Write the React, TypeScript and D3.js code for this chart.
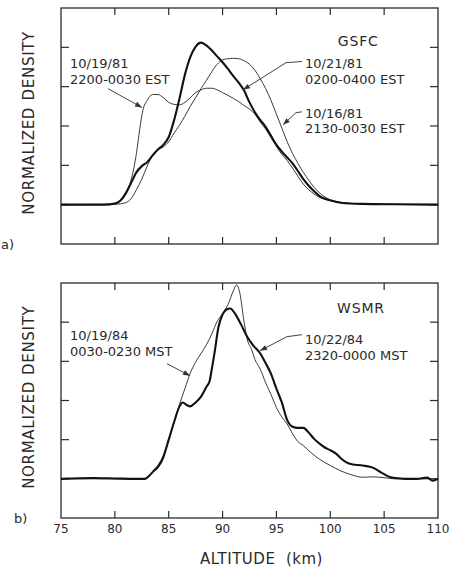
import React from "react";
import * as d3 from "d3";

// altitude (km), normalized density (tick units)
const gsfc_10_21_81: [number, number][] = [
  [75, 0], [79, 0], [80, 0.03], [80.5, 0.1], [81, 0.28], [81.5, 0.55], [82, 0.82], [82.5, 0.98],
  [83, 1.08], [83.5, 1.25], [84, 1.4], [84.5, 1.52], [85, 1.72], [85.5, 2.15], [86, 2.7],
  [86.5, 3.3], [87, 3.75], [87.5, 4.02], [88, 4.12], [88.5, 4.05], [89, 3.92], [89.5, 3.77],
  [90, 3.62], [90.5, 3.45], [91, 3.27], [91.5, 3.1], [92, 2.9], [92.5, 2.6], [93, 2.35],
  [93.5, 2.15], [94, 1.98], [94.5, 1.75], [95, 1.52], [95.5, 1.35], [96, 1.2], [96.5, 1.05],
  [97, 0.85], [97.5, 0.65], [98, 0.48], [98.5, 0.34], [99, 0.22], [99.5, 0.15], [100, 0.11],
  [101, 0.05], [103, 0.02], [106, 0.01], [110, 0],
];

const gsfc_10_19_81: [number, number][] = [
  [75, 0], [79.5, 0], [80, 0.02], [80.5, 0.1], [81, 0.3], [81.5, 0.62], [82, 1.3], [82.3, 1.9],
  [82.6, 2.4], [83, 2.65], [83.5, 2.8], [84, 2.8], [84.5, 2.72], [85, 2.6], [85.5, 2.55],
  [86, 2.54], [86.5, 2.6], [87, 2.72], [87.5, 2.85], [88, 2.92], [88.5, 2.96], [89, 2.96],
  [89.5, 2.92], [90, 2.85], [90.5, 2.78], [91, 2.7], [91.5, 2.62], [92, 2.52], [92.5, 2.43],
  [93, 2.3], [93.5, 2.1], [94, 1.92], [94.5, 1.7], [95, 1.48], [95.5, 1.28], [96, 1.12],
  [96.5, 0.93], [97, 0.72], [97.5, 0.52], [98, 0.38], [98.5, 0.27], [99, 0.19], [100, 0.1],
  [101, 0.05], [103, 0.02], [110, 0],
];

const gsfc_10_16_81: [number, number][] = [
  [75, 0], [80, 0.01], [81, 0.05], [81.5, 0.15], [82, 0.38], [82.5, 0.65], [83, 0.98],
  [83.5, 1.25], [84, 1.4], [84.5, 1.47], [85, 1.6], [85.5, 1.82], [86, 2.02], [86.5, 2.25],
  [87, 2.5], [87.5, 2.72], [88, 2.95], [88.5, 3.16], [89, 3.38], [89.5, 3.57], [90, 3.68],
  [90.5, 3.71], [91, 3.72], [91.5, 3.71], [92, 3.66], [92.5, 3.57], [93, 3.42], [93.5, 3.2],
  [94, 2.95], [94.5, 2.65], [95, 2.3], [95.5, 1.95], [96, 1.6], [96.5, 1.3], [97, 1.05],
  [97.5, 0.82], [98, 0.62], [98.5, 0.44], [99, 0.3], [99.5, 0.2], [100, 0.12], [101, 0.05],
  [102, 0.03], [104, 0.01], [110, 0],
];

const wsmr_10_22_84: [number, number][] = [
  [75, 0], [78, 0.02], [80, 0.01], [82, 0], [82.8, 0], [83.2, 0.08], [83.6, 0.2], [84, 0.3],
  [84.5, 0.55], [85, 1.0], [85.5, 1.45], [86, 1.85], [86.3, 1.95], [86.7, 1.88], [87, 1.85],
  [87.5, 1.95], [88, 2.1], [88.5, 2.35], [88.8, 2.5], [89, 2.8], [89.3, 3.3], [89.6, 3.85],
  [90, 4.2], [90.4, 4.33], [90.7, 4.35], [91.2, 4.2], [91.7, 3.95], [92.3, 3.62], [92.8, 3.42],
  [93.5, 3.2], [94, 2.95], [94.5, 2.68], [95, 2.3], [95.5, 1.95], [96, 1.5], [96.5, 1.33],
  [97, 1.3], [97.5, 1.3], [98, 1.18], [98.5, 1.02], [99, 0.9], [99.5, 0.8], [100, 0.73],
  [100.5, 0.65], [101, 0.52], [101.5, 0.42], [102, 0.37], [103, 0.34], [104, 0.28], [104.5, 0.2],
  [105, 0.12], [105.5, 0.05], [106, 0.02], [107, 0], [108, 0], [109, 0.03], [109.5, -0.05], [110, 0],
];

const wsmr_10_19_84: [number, number][] = [
  [75, 0], [80, 0], [82.8, 0], [83.3, 0.1], [83.7, 0.25], [84, 0.35], [84.5, 0.6], [85, 1.0],
  [85.5, 1.45], [86, 1.9], [86.5, 2.3], [87, 2.7], [87.5, 2.98], [88, 3.2], [88.5, 3.42],
  [89, 3.7], [89.5, 4.02], [90, 4.22], [90.5, 4.45], [91, 4.8], [91.3, 4.95], [91.6, 4.75],
  [92, 4.0], [92.3, 3.55], [92.7, 3.3], [93, 3.05], [93.5, 2.8], [94, 2.45], [94.5, 2.15],
  [95, 1.82], [95.5, 1.58], [96, 1.4], [96.5, 1.15], [97, 0.95], [97.5, 0.85], [98, 0.72],
  [99, 0.5], [100, 0.34], [101, 0.2], [102, 0.1], [103, 0.04], [104, 0.05], [105, 0.03],
  [106, 0], [110, 0],
];

const xTicks = [75, 80, 85, 90, 95, 100, 105, 110];
const yTicks = [0, 1, 2, 3, 4];

// annotation arrows: tail, (elbow), tip in data coords
const gsfcArrows: [number, number][][] = [
  [[79.36, 2.95], [82.52, 2.47]],
  [[97.37, 3.64], [95.89, 3.61], [91.9, 2.92]],
  [[97.37, 2.36], [96.82, 2.34], [95.61, 2.03]],
];
const wsmrArrows: [number, number][][] = [
  [[84.84, 2.94], [86.98, 2.63]],
  [[97.37, 3.68], [95.98, 3.63], [93.48, 3.27]],
];
const gsfcLabels: [number, number, string][] = [
  [75.84, 3.48, "10/19/81"], [75.84, 3.08, "2200-0030 EST"],
  [97.65, 3.48, "10/21/81"], [97.65, 3.08, "0200-0400 EST"],
  [97.65, 2.21, "10/16/81"], [97.65, 1.81, "2130-0030 EST"],
];
const wsmrLabels: [number, number, string][] = [
  [75.84, 3.55, "10/19/84"], [75.84, 3.14, "0030-0230 MST"],
  [97.65, 3.45, "10/22/84"], [97.65, 3.04, "2320-0000 MST"],
];

const FONT = "DejaVu Sans, sans-serif";
const INK = "#2a2a2a";

type Series = { data: [number, number][]; thick: boolean };

function Panel({ top, bottom, series, arrows, labels, site, siteAt, tag, tagX, showXLabels }: {
  top: number; bottom: number; series: Series[]; arrows: [number, number][][];
  labels: [number, number, string][]; site: string; siteAt: [number, number];
  tag: string; tagX: number; showXLabels: boolean;
}) {
  const left = 61, right = 438;
  const x = d3.scaleLinear().domain([75, 110]).range([left, right]);
  const y = d3.scaleLinear().domain([-1, 5]).range([bottom, top]);
  const line = d3.line<[number, number]>().x(d => x(d[0])).y(d => y(d[1])).curve(d3.curveMonotoneX);
  const arrowLine = d3.line<[number, number]>().x(d => x(d[0])).y(d => y(d[1]));
  return (
    <g>
      <rect x={left} y={top} width={right - left} height={bottom - top} fill="none" stroke={INK} strokeWidth={1.3} />
      {xTicks.slice(1, -1).map(t => (
        <g key={t}>
          <line x1={x(t)} x2={x(t)} y1={top} y2={top + 7} stroke={INK} strokeWidth={1.2} />
          <line x1={x(t)} x2={x(t)} y1={bottom} y2={bottom - 7} stroke={INK} strokeWidth={1.2} />
        </g>
      ))}
      {yTicks.map(t => (
        <g key={t}>
          <line x1={left} x2={left + 8} y1={y(t)} y2={y(t)} stroke={t === 0 ? "#999" : INK} strokeWidth={t === 0 ? 2 : 1.2} />
          <line x1={right} x2={right - 8} y1={y(t)} y2={y(t)} stroke={INK} strokeWidth={1.2} />
        </g>
      ))}
      {series.map((s, i) => (
        <path key={i} d={line(s.data) ?? ""} fill="none" stroke={s.thick ? "#111" : "#3a3a3a"}
          strokeWidth={s.thick ? 2.1 : 1} strokeLinejoin="round" />
      ))}
      {arrows.map((a, i) => {
        const p = a[a.length - 1], q = a[a.length - 2];
        const ang = Math.atan2(y(p[1]) - y(q[1]), x(p[0]) - x(q[0]));
        const px = x(p[0]), py = y(p[1]);
        const L = 7, W = 2.6;
        const bx = px - L * Math.cos(ang), by = py - L * Math.sin(ang);
        const head = `M${px},${py}L${bx - W * Math.sin(ang)},${by + W * Math.cos(ang)}L${bx + W * Math.sin(ang)},${by - W * Math.cos(ang)}Z`;
        return (
          <g key={i}>
            <path d={arrowLine(a) ?? ""} fill="none" stroke="#444" strokeWidth={1} />
            <path d={head} fill="#333" />
          </g>
        );
      })}
      {labels.map(([a, v, t], i) => (
        <text key={i} x={x(a)} y={y(v)} fontFamily={FONT} fontSize={13} fill={INK}>{t}</text>
      ))}
      <text x={x(siteAt[0])} y={y(siteAt[1])} fontFamily={FONT} fontSize={14} letterSpacing={0.8} fill={INK}>{site}</text>
      <text transform={`translate(34,${y(0) + 10}) rotate(-90)`} fontFamily={FONT} fontSize={15} letterSpacing={0.7} fill={INK}>NORMALIZED</text>
      <text transform={`translate(34,${y(2.65)}) rotate(-90)`} fontFamily={FONT} fontSize={15} letterSpacing={0.7} fill={INK}>DENSITY</text>
      <text x={tagX} y={bottom + 5} fontFamily={FONT} fontSize={13} fill={INK}>{tag}</text>
      {showXLabels && xTicks.map(t => (
        <text key={t} x={x(t)} y={bottom + 15} textAnchor="middle" fontFamily={FONT} fontSize={12} fill={INK}>{t}</text>
      ))}
      {showXLabels && (
        <text x={(left + right) / 2 + 12} y={bottom + 46} textAnchor="middle" fontFamily={FONT} fontSize={15} letterSpacing={0.5} fill={INK} xmlSpace="preserve">{"ALTITUDE  (km)"}</text>
      )}
    </g>
  );
}

export default function App() {
  return (
    <svg width={451} height={574} style={{ position: "absolute", left: 0, top: 0, background: "#fff" }}>
      <rect width={451} height={574} fill="#fff" />
      <Panel top={8} bottom={244}
        series={[
          { data: gsfc_10_16_81, thick: false },
          { data: gsfc_10_19_81, thick: false },
          { data: gsfc_10_21_81, thick: true },
        ]}
        arrows={gsfcArrows} labels={gsfcLabels} site="GSFC" siteAt={[100.7, 4.04]}
        tag="a)" tagX={1} showXLabels={false} />
      <Panel top={283} bottom={518}
        series={[
          { data: wsmr_10_19_84, thick: false },
          { data: wsmr_10_22_84, thick: true },
        ]}
        arrows={wsmrArrows} labels={wsmrLabels} site="WSMR" siteAt={[100.63, 4.24]}
        tag="b)" tagX={14} showXLabels={true} />
    </svg>
  );
}
